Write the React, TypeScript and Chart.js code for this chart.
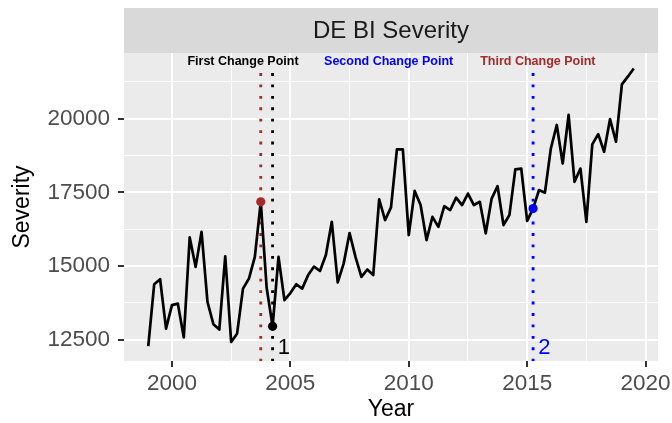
import React, { useEffect, useRef } from "react";
import { Chart, registerables } from "chart.js";

Chart.register(...registerables);

// ---- Data ----
const START_YEAR = 1999;
const QUARTER = 0.25;
// Quarterly severity, 1999 Q1 .. 2019 Q3
const SEVERITY: number[] = [
  12280, 14380, 14550, 12870, // 1999
  13670, 13720, 12570, 15970, // 2000
  14970, 16160, 13780, 13020, // 2001
  12840, 15330, 12420, 12700, // 2002
  14230, 14570, 15310, 17180, // 2003
  14250, 12950, 15310, 13840, // 2004
  14080, 14380, 14230, 14690, // 2005
  14980, 14830, 15370, 16500, // 2006
  14440, 15080, 16120, 15310, // 2007
  14630, 14880, 14690, 17260, // 2008
  16560, 16990, 18960, 18960, // 2009
  16050, 17550, 17070, 15880, // 2010
  16670, 16330, 17030, 16900, // 2011
  17320, 17070, 17460, 17070, // 2012
  17180, 16110, 17290, 17710, // 2013
  16390, 16730, 18280, 18310, // 2014
  16530, 16950, 17580, 17490, // 2015
  18990, 19790, 18480, 20130, // 2016
  17860, 18310, 16500, 19130, // 2017
  19480, 18880, 19990, 19220, // 2018
  21170, 21430, 21710,        // 2019
];

const CHANGE_POINTS: number[] = [2004.25, 2015.25, 2003.75];
const CP_COLORS: string[] = ["#000000", "#0000FF", "#A52A2A"];
const CP_TITLES: string[] = ["First Change Point", "Second Change Point", "Third Change Point"];
const CP_TITLE_X: number[] = [2003, 2009.15, 2015.45];
const CP_NUMBERS: string[] = ["1", "2", ""];

const X_MAJOR_TICKS: number[] = [2000, 2005, 2010, 2015, 2020];
const Y_MAJOR_TICKS: number[] = [12500, 15000, 17500, 20000];

const PANEL_TITLE = "DE BI Severity";
const X_TITLE = "Year";
const Y_TITLE = "Severity";

// ---- Layout constants ----
const X_MIN = 1997.975;
const X_MAX = 2020.525;
const Y_MIN = 11772;
const Y_MAX = 22235;
const CP_LINE_TOP = 21555;
const CP_TITLE_Y = 21940;
const CP_NUMBER_Y = 12220;
const CP_NUMBER_DX = 0.48;
const STRIP_TOP = 8;
const FONT = '"Liberation Sans", Arial, Helvetica, sans-serif';

const xGrid = (() => {
  const out: number[] = [];
  X_MAJOR_TICKS.forEach((v, i) => {
    out.push(v);
    if (i < X_MAJOR_TICKS.length - 1) out.push((v + X_MAJOR_TICKS[i + 1]) / 2);
  });
  return out;
})();
const yGrid = (() => {
  const out: number[] = [];
  Y_MAJOR_TICKS.forEach((v, i) => {
    out.push(v);
    const next = i < Y_MAJOR_TICKS.length - 1 ? Y_MAJOR_TICKS[i + 1] : v + (v - Y_MAJOR_TICKS[i - 1]);
    out.push((v + next) / 2);
  });
  return out;
})();

const isMajorX = (v: number) => X_MAJOR_TICKS.includes(v);
const isMajorY = (v: number) => Y_MAJOR_TICKS.includes(v);

const panelPlugin = {
  id: "ggpanel",
  beforeDraw(chart: any) {
    const { ctx, chartArea: a } = chart;
    ctx.save();
    ctx.fillStyle = "#ebebeb";
    ctx.fillRect(a.left, a.top, a.right - a.left, a.bottom - a.top);
    ctx.fillStyle = "#d9d9d9";
    ctx.fillRect(a.left, STRIP_TOP, a.right - a.left, a.top - STRIP_TOP);
    ctx.fillStyle = "#1a1a1a";
    ctx.font = `24px ${FONT}`;
    ctx.textAlign = "center";
    ctx.textBaseline = "middle";
    ctx.fillText(PANEL_TITLE, (a.left + a.right) / 2, (STRIP_TOP + a.top) / 2 + 1);
    ctx.restore();
  },
  afterDatasetsDraw(chart: any) {
    const { ctx } = chart;
    const xs = chart.scales.x;
    const ys = chart.scales.y;
    ctx.save();
    ctx.textAlign = "center";
    ctx.textBaseline = "middle";
    CP_TITLES.forEach((t, i) => {
      ctx.fillStyle = CP_COLORS[i];
      ctx.font = `bold 12.5px ${FONT}`;
      ctx.fillText(t, xs.getPixelForValue(CP_TITLE_X[i]), ys.getPixelForValue(CP_TITLE_Y));
    });
    CP_NUMBERS.forEach((t, i) => {
      if (!t) return;
      ctx.fillStyle = CP_COLORS[i];
      ctx.font = `22px ${FONT}`;
      ctx.fillText(t, xs.getPixelForValue(CHANGE_POINTS[i] + CP_NUMBER_DX), ys.getPixelForValue(CP_NUMBER_Y));
    });
    ctx.restore();
  },
};

export default function App() {
  const canvasRef = useRef<HTMLCanvasElement | null>(null);

  useEffect(() => {
    document.body.style.margin = "0";
    const canvas = canvasRef.current;
    if (!canvas) return;
    Chart.defaults.font.family = FONT;

    const seriesData = SEVERITY.map((v, i) => ({ x: START_YEAR + i * QUARTER, y: v }));
    const markerData = CHANGE_POINTS.map((cp) => ({
      x: cp,
      y: SEVERITY[Math.round((cp - START_YEAR) / QUARTER)],
    }));

    const vlines = CHANGE_POINTS.map((cp, i) => ({
      type: "line" as const,
      data: [
        { x: cp, y: CP_LINE_TOP },
        { x: cp, y: Y_MIN },
      ],
      borderColor: CP_COLORS[i],
      borderWidth: 2.86,
      borderDash: [2.86, 8.57],
      borderCapStyle: "butt" as const,
      pointRadius: 0,
      fill: false,
    }));

    const chart = new Chart(canvas, {
      type: "line",
      data: {
        datasets: [
          {
            data: markerData,
            showLine: false,
            pointRadius: 4.6,
            pointBackgroundColor: CP_COLORS,
            pointBorderColor: CP_COLORS,
            pointBorderWidth: 0,
          } as any,
          {
            data: seriesData,
            borderColor: "#000000",
            borderWidth: 2.7,
            borderJoinStyle: "round",
            pointRadius: 0,
            tension: 0,
            fill: false,
          },
          ...vlines,
        ],
      },
      options: {
        responsive: false,
        animation: false,
        devicePixelRatio: 1,
        events: [],
        layout: { padding: { left: 0, right: 14, top: 53, bottom: 0 } },
        plugins: {
          legend: { display: false },
          tooltip: { enabled: false },
          title: { display: false },
        },
        scales: {
          x: {
            type: "linear",
            min: X_MIN,
            max: X_MAX,
            afterBuildTicks: (s: any) => {
              s.ticks = xGrid.map((v) => ({ value: v }));
            },
            afterFit: (s: any) => {
              s.height = 62;
              s.paddingLeft = 0;
              s.paddingRight = 0;
            },
            border: { display: false },
            grid: {
              color: "#ffffff",
              lineWidth: (c: any) => (isMajorX(c.tick?.value) ? 2 : 1),
              tickLength: 6,
              tickWidth: 2,
              tickColor: (c: any) => (isMajorX(c.tick?.value) ? "#333333" : "rgba(0,0,0,0)"),
            },
            ticks: {
              autoSkip: false,
              maxRotation: 0,
              minRotation: 0,
              padding: 3,
              color: "#4d4d4d",
              font: { size: 22.5 },
              callback: (v: any) => (isMajorX(Number(v)) ? String(v) : ""),
            },
            title: {
              display: true,
              text: X_TITLE,
              color: "#000000",
              font: { size: 23 },
              padding: { top: 0, bottom: 0 },
            },
          },
          y: {
            type: "linear",
            min: Y_MIN,
            max: Y_MAX,
            afterBuildTicks: (s: any) => {
              s.ticks = yGrid.map((v) => ({ value: v }));
            },
            afterFit: (s: any) => {
              s.width = 124;
              s.paddingTop = 0;
              s.paddingBottom = 0;
            },
            border: { display: false },
            grid: {
              color: "#ffffff",
              lineWidth: (c: any) => (isMajorY(c.tick?.value) ? 2 : 1),
              tickLength: 6,
              tickWidth: 2,
              tickColor: (c: any) => (isMajorY(c.tick?.value) ? "#333333" : "rgba(0,0,0,0)"),
            },
            ticks: {
              autoSkip: false,
              padding: 8,
              color: "#4d4d4d",
              font: { size: 22.5 },
              callback: (v: any) => (isMajorY(Number(v)) ? String(v) : ""),
            },
            title: {
              display: true,
              text: Y_TITLE,
              color: "#000000",
              font: { size: 23 },
              padding: { top: 9, bottom: 0 },
            },
          },
        },
      },
      plugins: [panelPlugin],
    });

    return () => chart.destroy();
  }, []);

  return (
    <div style={{ position: "absolute", left: 0, top: 0, width: 672, height: 423 }}>
      <canvas ref={canvasRef} width={672} height={423} style={{ width: 672, height: 423, display: "block" }} />
    </div>
  );
}
